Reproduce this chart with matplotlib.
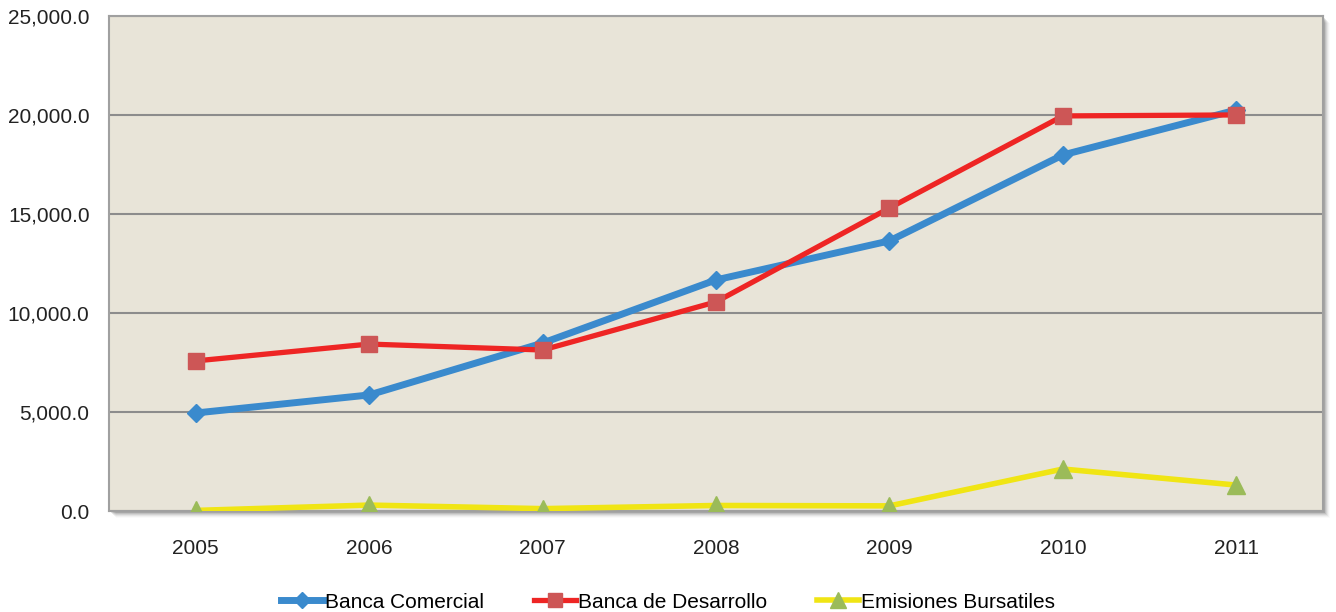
import matplotlib.pyplot as plt
from matplotlib.patches import Rectangle
from matplotlib.ticker import FuncFormatter

plt.rcParams['font.family'] = ['Liberation Sans', 'DejaVu Sans']

years = ['2005', '2006', '2007', '2008', '2009', '2010', '2011']
banca_comercial = [4950, 5860, 8480, 11670, 13640, 17980, 20250]
banca_desarrollo = [7580, 8430, 8130, 10560, 15300, 19950, 20000]
emisiones = [30, 300, 120, 280, 260, 2120, 1310]

fig = plt.figure(figsize=(13.36, 6.12), dpi=100)
ax = fig.add_axes([0.0816, 0.165, 0.9087, 0.809])
ax.set_zorder(2)

# soft drop shadow behind plot area
for i, a in enumerate([0.12, 0.09, 0.07, 0.05, 0.035, 0.02]):
    off = (i + 2) / 1336
    offy = (i + 2) / 612
    fig.patches.append(Rectangle((0.0816 + off, 0.165 - offy), 0.9087, 0.809,
                                 transform=fig.transFigure, facecolor='black',
                                 alpha=a, edgecolor='none', zorder=-5))

ax.set_facecolor('#E8E4D8')
x = [i + 0.5 for i in range(len(years))]

ax.plot(x, banca_comercial, color='#3A8ACD', lw=5, marker='D', ms=9,
        markerfacecolor='#3A8ACD', markeredgecolor='#3A8ACD', label='Banca Comercial', zorder=3)
ax.plot(x, banca_desarrollo, color='#EE2524', lw=3.8, marker='s', ms=12,
        markerfacecolor='#CD5656', markeredgecolor='#CD5656', label='Banca de Desarrollo', zorder=4)
ax.plot(x, emisiones, color='#F0E514', lw=4, marker='^', ms=13,
        markerfacecolor='#9BBB59', markeredgecolor='#9BBB59', label='Emisiones Bursatiles', zorder=3)

ax.set_xlim(0, 7)
ax.set_ylim(0, 25000)
ax.set_yticks(range(0, 25001, 5000))
ax.yaxis.set_major_formatter(FuncFormatter(lambda v, p: f'{v:,.1f}'))
ax.set_xticks(x)
ax.set_xticklabels(years)
ax.grid(axis='y', color='#8C8C8C', lw=1.5)
ax.set_axisbelow(True)
ax.tick_params(length=0, labelsize=15, colors='#222222')
ax.tick_params(axis='x', pad=20)
ax.tick_params(axis='y', pad=14)
for s in ax.spines.values():
    s.set_color('#A0A0A0')
    s.set_linewidth(1.5)

fig.legend(loc='lower center', ncol=3, frameon=False, fontsize=15,
           bbox_to_anchor=(0.5, -0.03), handlelength=2.0, columnspacing=2.4,
           handletextpad=0.1, markerscale=0.85)

fig.savefig('out.png', dpi=100)
